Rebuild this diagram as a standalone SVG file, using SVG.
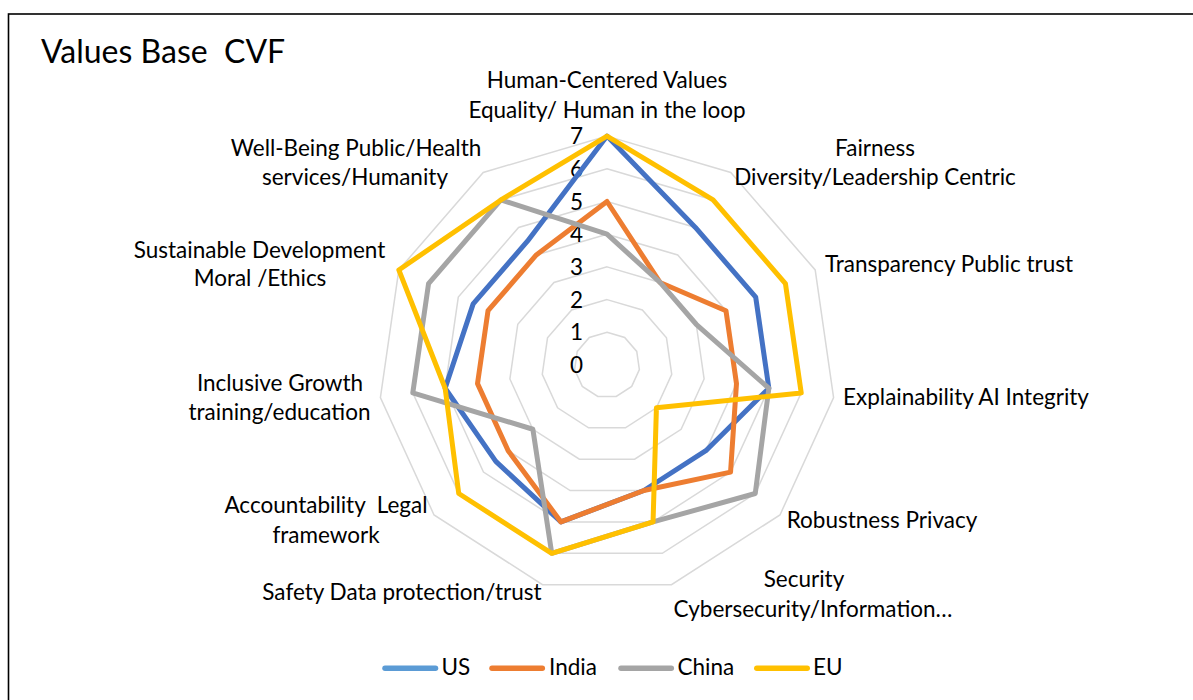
<svg xmlns="http://www.w3.org/2000/svg" width="1193" height="700" viewBox="0 0 1193 700">
<style>
text{font-family:Lato,"Liberation Sans",sans-serif;fill:#000;}
.lbl{font-size:22.5px;text-anchor:middle;}
.tick{font-size:22.5px;text-anchor:end;}
.leg{font-size:22.5px;}
.ring{fill:none;stroke:#d9d9d9;stroke-width:1.5;}
.ser{fill:none;stroke-width:5;stroke-linejoin:round;}
.legline{stroke-width:5.5;stroke-linecap:round;}
</style>
<rect x="8.5" y="14" width="1200" height="720" fill="#fff" stroke="#000" stroke-width="1.6"/>
<text x="41" y="63" style="font-size:32px;white-space:pre" xml:space="preserve">Values Base  CVF</text>
<g id="grid">
<polygon class="ring" points="607,332.3 624.68,337.49 636.74,351.42 639.37,369.65 631.71,386.42 616.21,396.38 597.79,396.38 582.29,386.42 574.63,369.65 577.26,351.42 589.32,337.49"/>
<polygon class="ring" points="607,299.6 642.36,309.98 666.48,337.84 671.74,374.3 656.42,407.84 625.42,427.76 588.58,427.76 557.58,407.84 542.26,374.3 547.52,337.84 571.64,309.98"/>
<polygon class="ring" points="607,266.9 660.04,282.47 696.22,324.26 704.11,378.95 681.13,429.26 634.63,459.14 579.37,459.14 532.87,429.26 509.89,378.95 517.78,324.26 553.96,282.47"/>
<polygon class="ring" points="607,234.2 677.72,254.96 725.96,310.68 736.48,383.6 705.84,450.68 643.84,490.52 570.16,490.52 508.16,450.68 477.52,383.6 488.04,310.68 536.28,254.96"/>
<polygon class="ring" points="607,201.5 695.4,227.45 755.7,297.1 768.85,388.25 730.55,472.1 653.05,521.9 560.95,521.9 483.45,472.1 445.15,388.25 458.3,297.1 518.6,227.45"/>
<polygon class="ring" points="607,168.8 713.08,199.94 785.44,283.52 801.22,392.9 755.26,493.52 662.26,553.28 551.74,553.28 458.74,493.52 412.78,392.9 428.56,283.52 500.92,199.94"/>
<polygon class="ring" points="607,136.1 730.76,172.43 815.18,269.94 833.59,397.55 779.97,514.94 671.47,584.66 542.53,584.66 434.03,514.94 380.41,397.55 398.82,269.94 483.24,172.43"/>
</g>
<g id="ticks">
<text class="tick" x="583" y="373">0</text>
<text class="tick" x="583" y="340.3">1</text>
<text class="tick" x="583" y="307.6">2</text>
<text class="tick" x="583" y="274.9">3</text>
<text class="tick" x="583" y="242.2">4</text>
<text class="tick" x="583" y="209.5">5</text>
<text class="tick" x="583" y="176.8">6</text>
<text class="tick" x="583" y="144.1">7</text>
</g>
<g id="series">
<polygon id="us" class="ser" stroke="#4472c4" points="607,136.1 695.4,227.45 755.7,297.1 768.85,388.25 705.84,450.68 643.84,490.52 560.95,521.9 495.8,461.39 445.15,388.25 473.17,303.89 527.44,241.2"/>
<polygon id="india" class="ser" stroke="#ed7d31" points="607,201.5 660.04,282.47 725.96,310.68 736.48,383.6 730.55,472.1 643.84,490.52 560.95,521.9 508.16,450.68 477.52,383.6 488.04,310.68 536.28,254.96"/>
<polygon id="china" class="ser" stroke="#a5a5a5" points="607,234.2 660.04,282.47 696.22,324.26 768.85,388.25 755.26,493.52 653.05,521.9 551.74,553.28 532.87,429.26 412.78,392.9 428.56,283.52 500.92,199.94"/>
<polygon id="eu" class="ser" stroke="#ffc000" points="607,136.1 713.08,199.94 785.44,283.52 801.22,392.9 656.42,407.84 653.05,521.9 551.74,553.28 458.74,493.52 445.15,388.25 398.82,269.94 500.92,199.94"/>
</g>
<g id="axis-labels">
<g id="ax0"><text class="lbl" x="607" y="88">Human-Centered Values</text><text class="lbl" x="607" y="118">Equality/ Human in the loop</text></g>
<g id="ax1"><text class="lbl" x="875" y="156">Fairness</text><text class="lbl" x="875" y="185">Diversity/Leadership Centric</text></g>
<g id="ax2"><text class="lbl" x="949" y="272">Transparency Public trust</text></g>
<g id="ax3"><text class="lbl" x="966" y="405">Explainability AI Integrity</text></g>
<g id="ax4"><text class="lbl" x="882" y="528">Robustness Privacy</text></g>
<g id="ax5"><text class="lbl" x="804" y="586.5">Security</text><text class="lbl" x="813" y="616.5">Cybersecurity/Information…</text></g>
<g id="ax6"><text class="lbl" x="402" y="600">Safety Data protection/trust</text></g>
<g id="ax7"><text class="lbl" x="326" y="513" style="white-space:pre" xml:space="preserve">Accountability  Legal</text><text class="lbl" x="326" y="542.5">framework</text></g>
<g id="ax8"><text class="lbl" x="280" y="391">Inclusive Growth</text><text class="lbl" x="279.5" y="420">training/education</text></g>
<g id="ax9"><text class="lbl" x="259.5" y="257.5">Sustainable Development</text><text class="lbl" x="260" y="286">Moral /Ethics</text></g>
<g id="ax10"><text class="lbl" x="356" y="156">Well-Being Public/Health</text><text class="lbl" x="355" y="185">services/Humanity</text></g>
</g>
<g id="legend">
<line class="legline" x1="385" y1="668.3" x2="435.5" y2="668.3" stroke="#5b9bd5"/>
<text class="leg" x="441.5" y="675">US</text>
<line class="legline" x1="492" y1="668.3" x2="542.3" y2="668.3" stroke="#ed7d31"/>
<text class="leg" x="549" y="675">India</text>
<line class="legline" x1="621" y1="668.3" x2="671.3" y2="668.3" stroke="#a5a5a5"/>
<text class="leg" x="677.5" y="675">China</text>
<line class="legline" x1="756.8" y1="668.3" x2="807.2" y2="668.3" stroke="#ffc000"/>
<text class="leg" x="813" y="675">EU</text>
</g>
</svg>
